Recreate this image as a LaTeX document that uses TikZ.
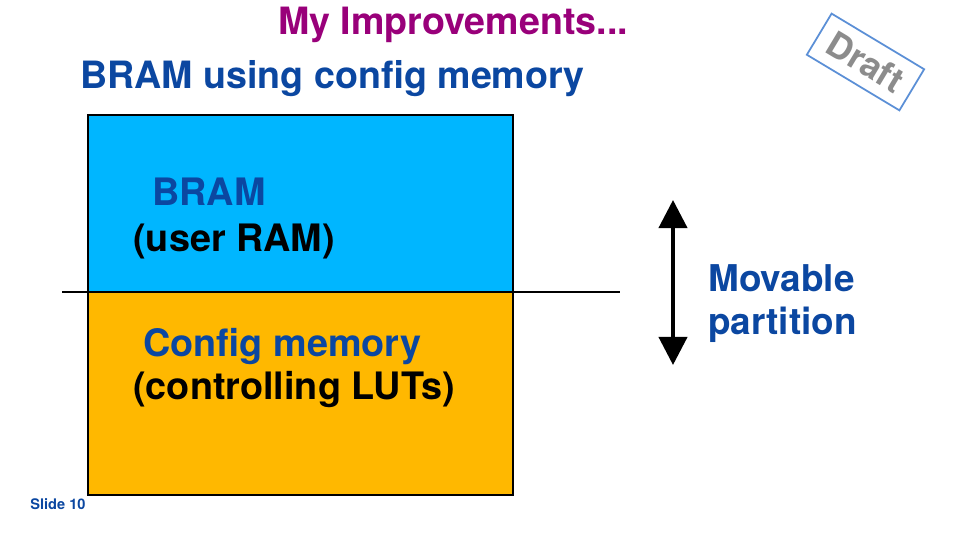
\documentclass[tikz,border=0pt]{standalone}
\usepackage{fontspec}
\setmainfont{TeX Gyre Heros}
\usepackage{tikz}
\usetikzlibrary{arrows.meta, positioning, calc}
\definecolor{slidepurple}{HTML}{99007A}
\definecolor{slideblue}{HTML}{0B47A1}
\definecolor{bramcyan}{HTML}{00B6FF}
\definecolor{cfgorange}{HTML}{FFB800}
\definecolor{stampblue}{HTML}{5B8FD6}
\definecolor{stampgray}{HTML}{8C8C8C}

\begin{document}
\begin{tikzpicture}[
    font=\bfseries,
    heading/.style={inner sep=0pt, font=\fontsize{21.4}{25}\selectfont\bfseries},
    region/.style={rectangle, draw=black, line width=1.1pt, minimum width=8.5cm, inner sep=0pt},
    boxtext/.style={inner sep=0pt, anchor=base west, font=\fontsize{21.5}{25}\selectfont\bfseries},
    arrow/.style={{Triangle[length=16pt,width=16pt]}-{Triangle[length=16pt,width=16pt]}, line width=2.3pt, black}
]
\useasboundingbox (0,0) rectangle (19.2,10.8);

% titles
\node[heading, slidepurple, anchor=base] (title) at (9.06,10.1) {My Improvements...};
\node[heading, slideblue, anchor=base west] (subtitle) at (1.6,9.02) {BRAM using config memory};

% memory regions
\node[region, fill=bramcyan, minimum height=3.54cm] (bram) at (6.01,6.73) {};
\node[region, fill=cfgorange, minimum height=4.06cm] (cfg) at (6.01,2.93) {};

\node[boxtext, slideblue] (bramlabel) at (3.04,6.68) {BRAM};
\node[boxtext] (userram) at (2.66,5.76) {(user RAM)};
\node[boxtext, slideblue] (cfglabel) at (2.86,3.66) {Config memory};
\node[boxtext] (luts) at (2.66,2.8) {(controlling LUTs)};

% partition line and arrow
\coordinate (partL) at (1.24,4.96);
\coordinate (partR) at (12.4,4.96);
\draw[line width=1.1pt] (partL) -- (partR);

\coordinate (arrtop) at (13.46,6.8);
\coordinate (arrbot) at (13.46,3.5);
\draw[arrow] (arrtop) -- (arrbot);
\node[inner sep=0pt, anchor=base west, align=left, slideblue, font=\fontsize{21}{25}\selectfont\bfseries] (movable) at (14.16,4.1) {Movable\\partition};

% footer and stamp
\node[inner sep=0pt, anchor=base west, slideblue, font=\fontsize{8.3}{10}\selectfont\bfseries] (slideno) at (0.6,0.6) {Slide 10};
\node[draw=stampblue, line width=1pt, rotate=-31, minimum width=2.16cm, minimum height=0.96cm, inner sep=1pt, text=stampgray, font=\fontsize{20}{22}\selectfont\bfseries] (draft) at (17.31,9.56) {Draft};
\end{tikzpicture}
\end{document}
